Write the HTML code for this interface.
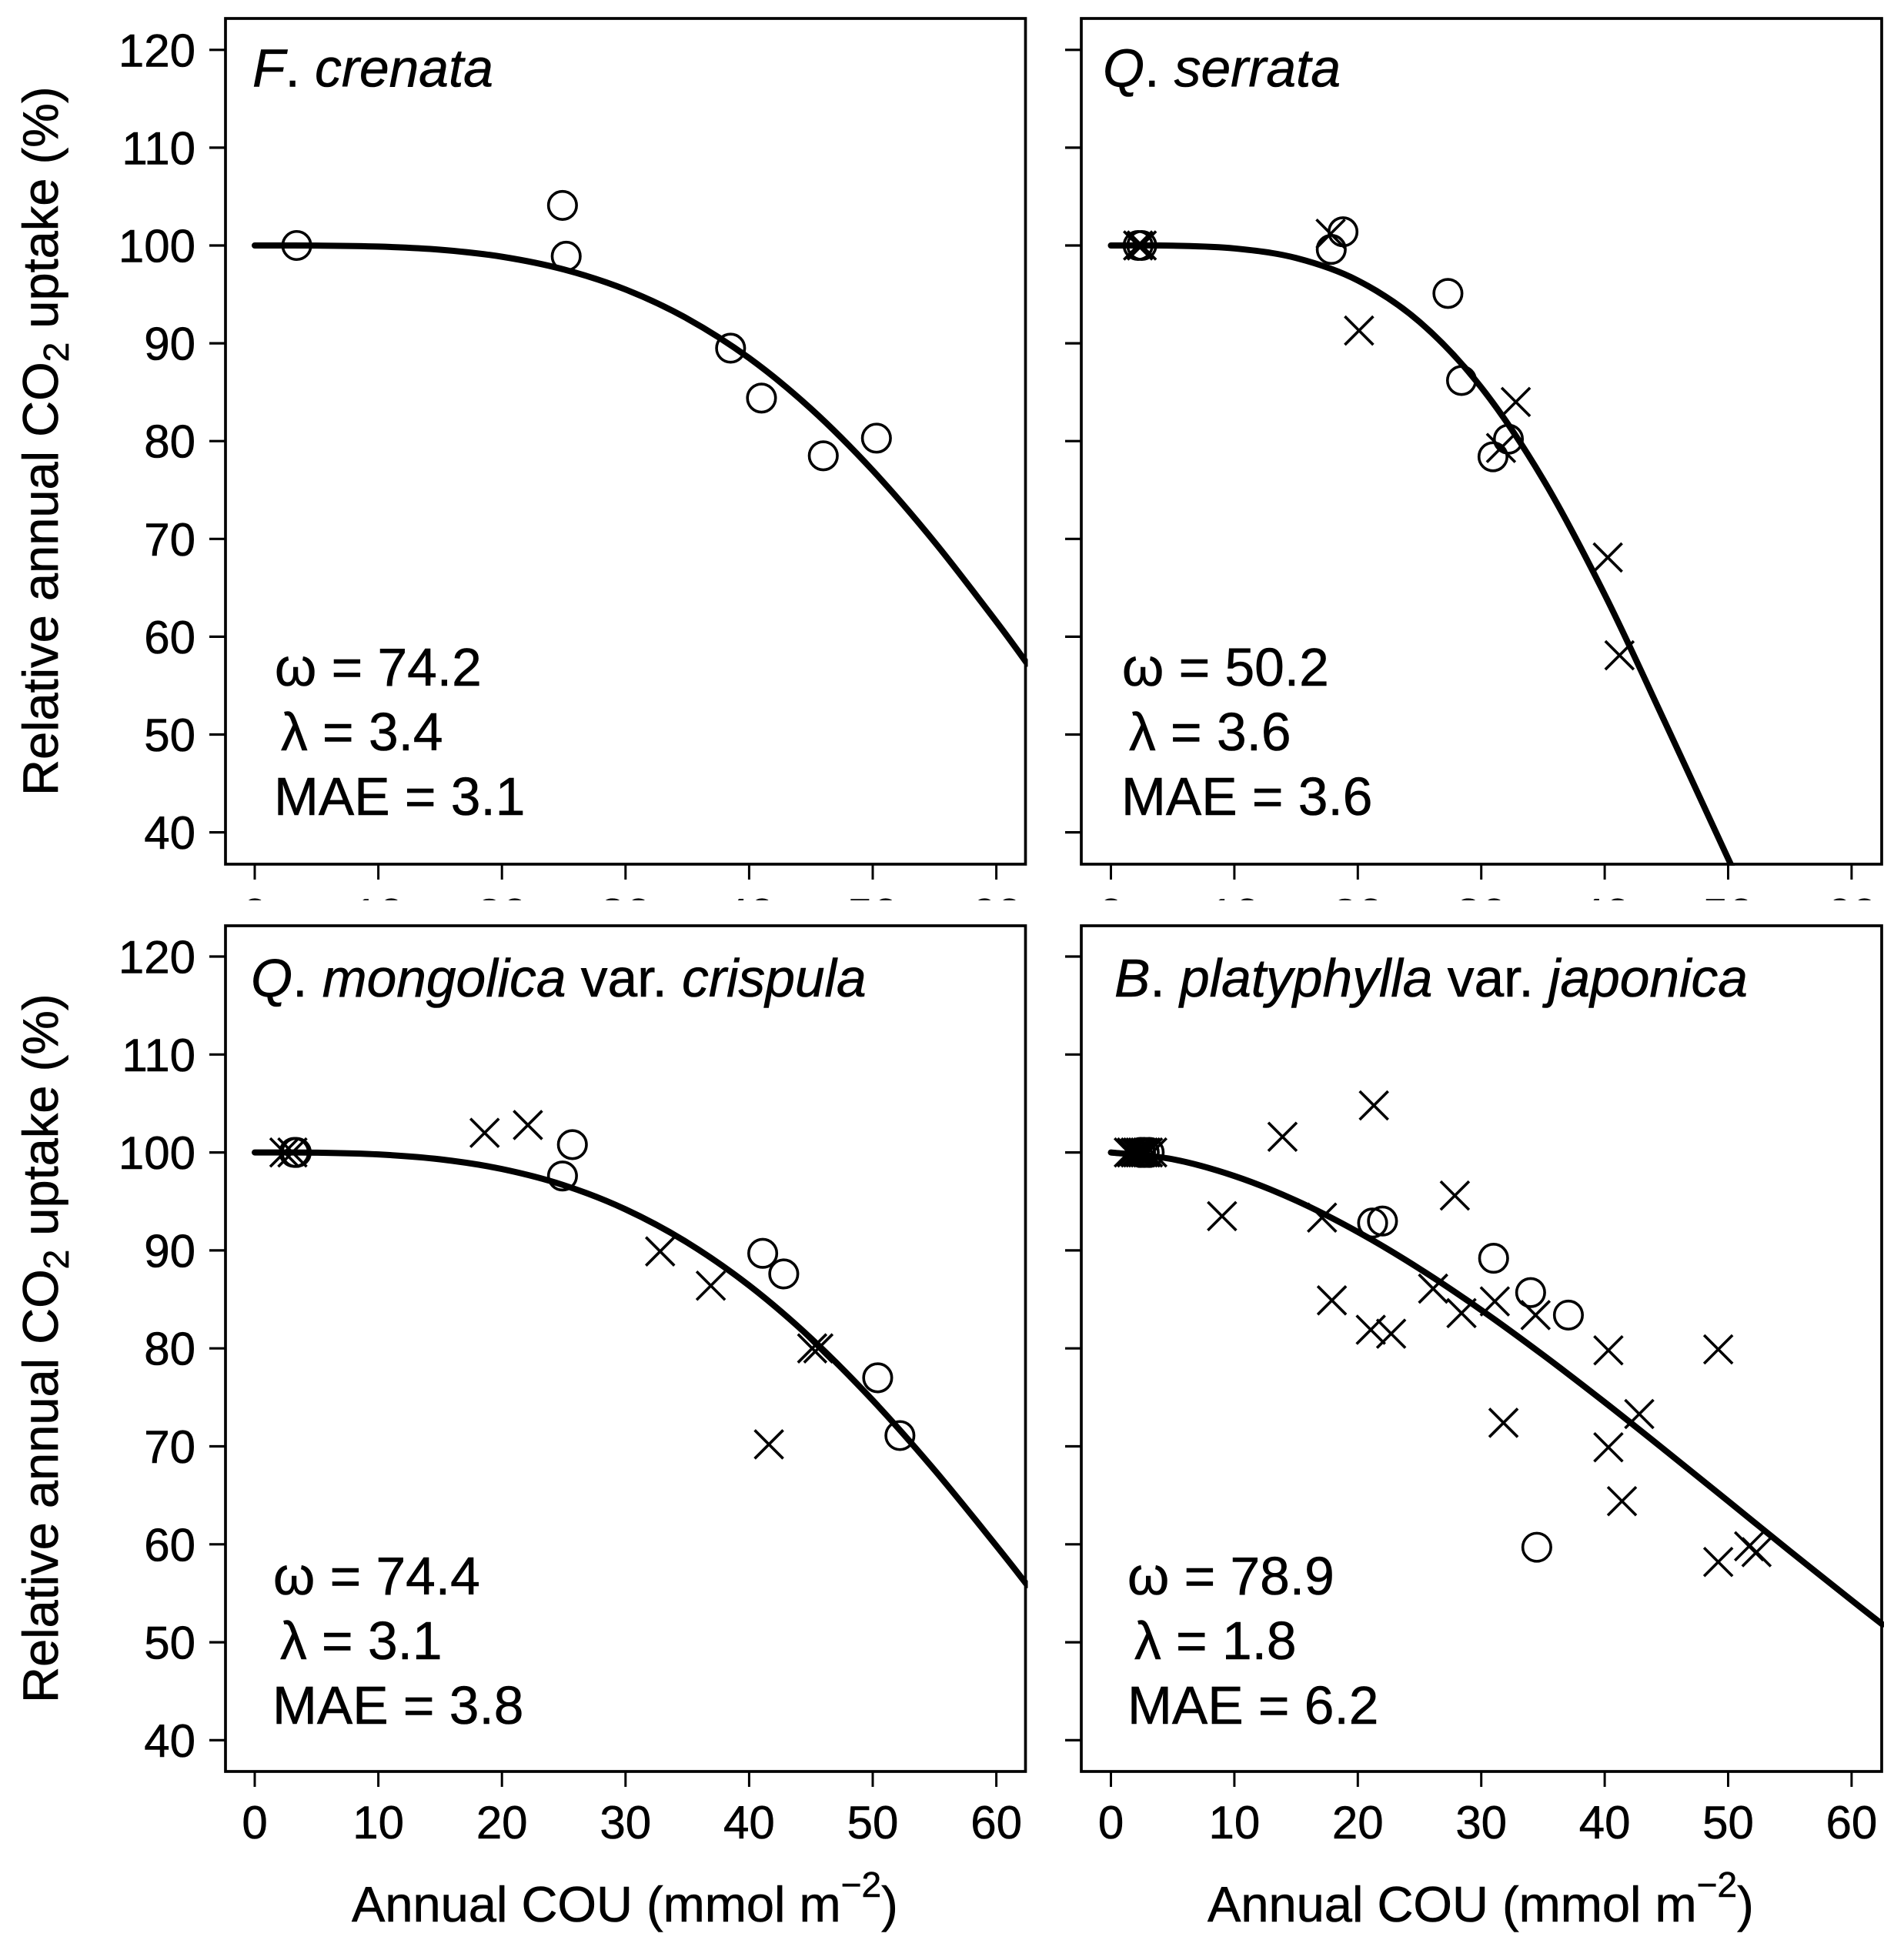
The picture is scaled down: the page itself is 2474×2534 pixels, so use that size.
<!DOCTYPE html>
<html lang="en">
<head>
<meta charset="utf-8">
<title>Relative annual CO2 uptake vs annual COU</title>
<style>
html,body{margin:0;padding:0;background:#fff;}
svg{display:block;}
text{font-family:"Liberation Sans",Arial,sans-serif;fill:#000;stroke:#000;stroke-width:0.6px;}
.tick{font-size:60px;}
.axt{font-size:65px;}
.sup{font-size:46px;}
.lab{font-size:69.5px;}
.sp{font-style:italic;}
</style>
</head>
<body>
<svg id="chart" xmlns="http://www.w3.org/2000/svg" width="2474" height="2534" viewBox="0 0 2474 2534">
  <rect x="0" y="0" width="2474" height="2534" fill="#fff"/>
  <g id="plots"></g>
  <rect x="270" y="1170" width="2204" height="46" fill="#fff"/>
  <g id="frames"></g>

  <text class="lab" x="328" y="112.5"><tspan class="sp">F</tspan>. <tspan class="sp">crenata</tspan></text>
  <text class="lab" x="1433" y="112.5"><tspan class="sp">Q</tspan>. <tspan class="sp">serrata</tspan></text>
  <text class="lab" x="326" y="1295"><tspan class="sp">Q</tspan>. <tspan class="sp">mongolica</tspan> var. <tspan class="sp">crispula</tspan></text>
  <text class="lab" x="1448" y="1295"><tspan class="sp">B</tspan>. <tspan class="sp">platyphylla</tspan> var. <tspan class="sp">japonica</tspan></text>

  <g class="lab">
    <text x="357" y="891">ω = 74.2</text>
    <text x="365" y="975">λ = 3.4</text>
    <text x="356" y="1059">MAE = 3.1</text>
  </g>
  <g class="lab">
    <text x="1458" y="891">ω = 50.2</text>
    <text x="1467" y="975">λ = 3.6</text>
    <text x="1457" y="1059">MAE = 3.6</text>
  </g>
  <g class="lab">
    <text x="355" y="2072">ω = 74.4</text>
    <text x="364" y="2156">λ = 3.1</text>
    <text x="354" y="2240">MAE = 3.8</text>
  </g>
  <g class="lab">
    <text x="1465" y="2072">ω = 78.9</text>
    <text x="1474" y="2156">λ = 1.8</text>
    <text x="1465" y="2240">MAE = 6.2</text>
  </g>

  <text class="axt" transform="translate(75 1034) rotate(-90)">Relative annual CO<tspan class="sup" dy="14">2</tspan><tspan dy="-14"> uptake (%)</tspan></text>
  <text class="axt" transform="translate(75 2213) rotate(-90)">Relative annual CO<tspan class="sup" dy="14">2</tspan><tspan dy="-14"> uptake (%)</tspan></text>
  <text class="axt" x="457" y="2497">Annual COU (mmol m<tspan class="sup" dy="-32">−2</tspan><tspan dy="32">)</tspan></text>
  <text class="axt" x="1569" y="2497">Annual COU (mmol m<tspan class="sup" dy="-32">−2</tspan><tspan dy="32">)</tspan></text>
</svg>

<script>
// Axis tick labels
const xTicks = [0, 10, 20, 30, 40, 50, 60];
const yTicks = [40, 50, 60, 70, 80, 90, 100, 110, 120];

// Fitted curve samples, read per panel
const curveXFcrenata = [0, 5, 10, 15, 20, 25, 30, 35, 40, 45, 50, 55, 60, 62.5];
const curveYFcrenata = [100, 99.99, 99.89, 99.57, 98.85, 97.55, 95.5, 92.52, 88.49, 83.31, 77, 69.68, 61.54, 57.24];
const curveXQserrata = [0, 5, 10, 15, 20, 25, 30, 35, 40, 45, 50, 52];
const curveYQserrata = [100, 99.98, 99.7, 98.72, 96.42, 92.19, 85.49, 76.11, 64.31, 50.94, 37.31, 32.1];
const curveXQmongolica = [0, 5, 10, 15, 20, 25, 30, 35, 40, 45, 50, 55, 60, 62.5];
const curveYQmongolica = [100, 99.98, 99.8, 99.3, 98.31, 96.66, 94.19, 90.8, 86.42, 81.03, 74.7, 67.58, 59.85, 55.84];
const curveXBplatyphylla = [0, 5, 10, 15, 20, 25, 30, 35, 40, 45, 50, 55, 60, 62.5];
const curveYBplatyphylla = [100, 99.31, 97.6, 95.09, 91.89, 88.13, 83.91, 79.33, 74.5, 69.49, 64.41, 59.31, 54.29, 51.82];

// Observations: circles
const circlesXFcrenata = [3.4, 24.9, 25.2, 38.5, 41, 46, 50.3];
const circlesYFcrenata = [100, 104.1, 98.9, 89.5, 84.4, 78.5, 80.3];
const circlesXQserrata = [2.2, 2.5, 18.8, 17.85, 27.3, 28.4, 32.2, 30.95];
const circlesYQserrata = [100, 100, 101.4, 99.6, 95.1, 86.2, 80.2, 78.4];
const circlesXQmongolica = [3.2, 3.36, 25.7, 24.9, 41.1, 42.8, 50.4, 52.2];
const circlesYQmongolica = [100, 100, 100.8, 97.6, 89.7, 87.6, 77, 71.1];
const circlesXBplatyphylla = [2.4, 2.7, 3.1, 21.2, 22, 31, 34, 37.06, 34.5];
const circlesYBplatyphylla = [100, 100, 100, 92.8, 93, 89.2, 85.7, 83.4, 59.7];

// Observations: crosses
const crossesXFcrenata = [];
const crossesYFcrenata = [];
const crossesXQserrata = [2.2, 2.5, 17.8, 20.1, 32.8, 31.6, 40.25, 41.2];
const crossesYQserrata = [100, 100, 101.2, 91.3, 84, 79.3, 68.1, 58.1];
const crossesXQmongolica = [2.4, 3.05, 18.6, 22.1, 32.8, 36.9, 45.1, 45.6, 41.6];
const crossesYQmongolica = [100, 100, 102, 102.8, 89.9, 86.4, 80, 80, 70.2];
const crossesXBplatyphylla = [1.45, 1.7, 2, 2.2, 2.4, 2.6, 2.8, 3, 3.35, 9, 13.9, 21.3, 17.1, 27.86, 17.9, 21.05, 22.7, 26.1, 28.4, 31.1, 34.4, 40.3, 49.2, 42.8, 31.8, 40.3, 41.4, 49.2, 51.7, 52.3];
const crossesYBplatyphylla = [100, 100, 100, 100, 100, 100, 100, 100, 100, 93.5, 101.6, 104.8, 93.35, 95.6, 84.9, 81.9, 81.5, 86.1, 83.6, 84.8, 83.4, 79.8, 79.9, 73.3, 72.4, 69.9, 64.4, 58.2, 59.8, 59.2];

const panels = [
  {id: 'f-crenata', col: 0, row: 0, cx: curveXFcrenata, cy: curveYFcrenata, ox: circlesXFcrenata, oy: circlesYFcrenata, xx: crossesXFcrenata, xy: crossesYFcrenata},
  {id: 'q-serrata', col: 1, row: 0, cx: curveXQserrata, cy: curveYQserrata, ox: circlesXQserrata, oy: circlesYQserrata, xx: crossesXQserrata, xy: crossesYQserrata},
  {id: 'q-mongolica', col: 0, row: 1, cx: curveXQmongolica, cy: curveYQmongolica, ox: circlesXQmongolica, oy: circlesYQmongolica, xx: crossesXQmongolica, xy: crossesYQmongolica},
  {id: 'b-platyphylla', col: 1, row: 1, cx: curveXBplatyphylla, cy: curveYBplatyphylla, ox: circlesXBplatyphylla, oy: circlesYBplatyphylla, xx: crossesXBplatyphylla, xy: crossesYBplatyphylla}
];

const NS = 'http://www.w3.org/2000/svg';
const colBox = [{left: 293, right: 1332.5, zero: 331, per: 16.06}, {left: 1405, right: 2445, zero: 1443.5, per: 16.04}];
const rowBox = [{top: 24, bottom: 1123, at100: 319, per: 12.71}, {top: 1203, bottom: 2302, at100: 1497.6, per: 12.73}];

function sx(col, v) { return colBox[col].zero + v * colBox[col].per; }
function sy(row, v) { return rowBox[row].at100 + (100 - v) * rowBox[row].per; }

function make(tag, attrs, parent) {
  const el = document.createElementNS(NS, tag);
  for (const k in attrs) el.setAttribute(k, attrs[k]);
  parent.appendChild(el);
  return el;
}

function smoothPath(pts) {
  let d = 'M' + pts[0][0].toFixed(2) + ' ' + pts[0][1].toFixed(2);
  for (let i = 0; i < pts.length - 1; i++) {
    const p0 = pts[Math.max(i - 1, 0)], p1 = pts[i], p2 = pts[i + 1], p3 = pts[Math.min(i + 2, pts.length - 1)];
    const c1x = p1[0] + (p2[0] - p0[0]) / 6, c1y = p1[1] + (p2[1] - p0[1]) / 6;
    const c2x = p2[0] - (p3[0] - p1[0]) / 6, c2y = p2[1] - (p3[1] - p1[1]) / 6;
    d += 'C' + c1x.toFixed(2) + ' ' + c1y.toFixed(2) + ' ' + c2x.toFixed(2) + ' ' + c2y.toFixed(2) + ' ' + p2[0].toFixed(2) + ' ' + p2[1].toFixed(2);
  }
  return d;
}

const plots = document.getElementById('plots');
const frames = document.getElementById('frames');
const defs = make('defs', {}, plots);

panels.forEach(function (p) {
  const c = colBox[p.col], r = rowBox[p.row];
  const g = make('g', {}, plots);
  
  

  const clip = make('clipPath', {id: 'clip-' + p.id}, defs);
  make('rect', {x: c.left, y: r.top, width: c.right - c.left + 3, height: r.bottom - r.top + 2}, clip);

  // y ticks
  yTicks.forEach(function (t) {
    const y = sy(p.row, t);
    const tick = make('line', {x1: c.left - 21, x2: c.left, y1: y, y2: y, stroke: '#000', 'stroke-width': 3.2}, g);
    
    
    if (p.col === 0) {
      const lbl = make('text', {x: c.left - 39, y: y + 21.5, 'text-anchor': 'end', class: 'tick'}, g);
      lbl.textContent = String(t);
      
      
    }
  });

  // x ticks
  xTicks.forEach(function (t) {
    const x = sx(p.col, t);
    const tick = make('line', {x1: x, x2: x, y1: r.bottom, y2: r.bottom + 20, stroke: '#000', 'stroke-width': 3}, g);
    
    
    const lbl = make('text', {x: x, y: r.bottom + 87, 'text-anchor': 'middle', class: 'tick'}, g);
    lbl.textContent = String(t);
    
    
  });

  // circles
  p.ox.forEach(function (v, i) {
    const m = make('circle', {cx: sx(p.col, v), cy: sy(p.row, p.oy[i]), r: 18.25, fill: 'none', stroke: '#000', 'stroke-width': 3.6}, g);
    
    
  });

  // crosses
  p.xx.forEach(function (v, i) {
    const x = sx(p.col, v), y = sy(p.row, p.xy[i]), h = 18.5;
    const m = make('path', {d: 'M' + (x - h) + ' ' + (y - h) + 'L' + (x + h) + ' ' + (y + h) + 'M' + (x - h) + ' ' + (y + h) + 'L' + (x + h) + ' ' + (y - h), fill: 'none', stroke: '#000', 'stroke-width': 3.6}, g);
    
    
  });

  // curve
  const pts = p.cx.map(function (v, i) { return [sx(p.col, v), sy(p.row, p.cy[i])]; });
  const curve = make('path', {d: smoothPath(pts), fill: 'none', stroke: '#000', 'stroke-width': 8, 'stroke-linecap': 'round', 'stroke-linejoin': 'round', 'clip-path': 'url(#clip-' + p.id + ')'}, g);
  
  

  // frame
  const fr = make('rect', {x: c.left, y: r.top, width: c.right - c.left, height: r.bottom - r.top, fill: 'none', stroke: '#000', 'stroke-width': 3.7}, frames);
  
  
});
</script>
</body>
</html>
